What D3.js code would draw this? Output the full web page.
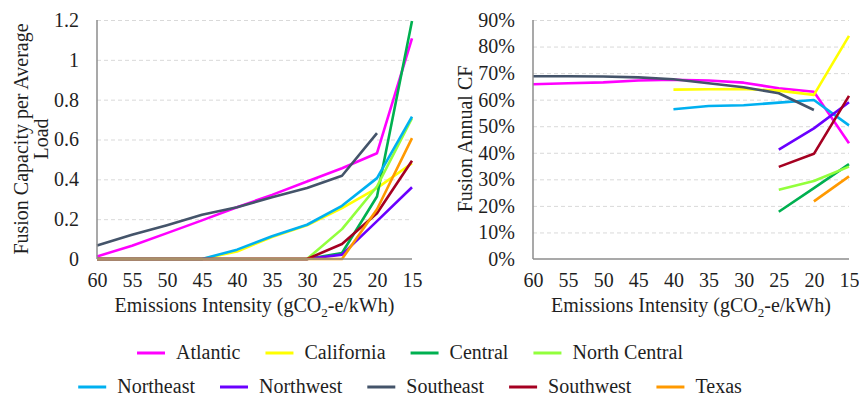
<!DOCTYPE html>
<html lang="en">
<head>
    <meta charset="UTF-8">
    <title>Fusion Capacity and Annual CF</title>
    <script src="https://d3js.org/d3.v7.min.js"></script>
    <style>
        body { margin: 0; background: #fff; }
        svg text { font-family: "Liberation Serif", "Times New Roman", serif; font-size: 20px; fill: #1f1f1f; }
    </style>
</head>
<body>
<svg id="chart" width="859" height="396"></svg>
<script>
    // emissions intensity (x axis), read left to right
    const intensity = [60, 55, 50, 45, 40, 35, 30, 25, 20, 15];

    const regions = ["Atlantic", "California", "Central", "North Central",
                     "Northeast", "Northwest", "Southeast", "Southwest", "Texas"];
    const colors = ["#ff00ff", "#ffff00", "#00b050", "#92ff3c",
                    "#00b0f0", "#6a00ff", "#44546a", "#a50021", "#ff9900"];

    // fusion capacity per average load
    const capAtlantic     = [0.013, 0.067, 0.13, 0.194, 0.26, 0.322, 0.389, 0.456, 0.531, 1.108];
    const capCalifornia   = [0, 0, 0, 0, 0.038, 0.11, 0.169, 0.256, 0.356, 0.481];
    const capCentral      = [0, 0, 0, 0, 0, 0, 0, 0.03, 0.314, 1.195];
    const capNorthCentral = [0, 0, 0, 0, 0, 0, 0, 0.15, 0.364, 0.707];
    const capNortheast    = [0, 0, 0, 0, 0.047, 0.114, 0.172, 0.267, 0.406, 0.715];
    const capNorthwest    = [0, 0, 0, 0, 0, 0, 0, 0.022, 0.19, 0.36];
    const capSoutheast    = [0.068, 0.122, 0.17, 0.222, 0.26, 0.31, 0.356, 0.418, 0.632, null];
    const capSouthwest    = [0, 0, 0, 0, 0, 0, 0, 0.075, 0.23, 0.493];
    const capTexas        = [0, 0, 0, 0, 0, 0, 0, 0, 0.25, 0.607];

    // fusion annual capacity factor
    const cfAtlantic     = [0.658, 0.662, 0.665, 0.672, 0.675, 0.672, 0.664, 0.643, 0.630, 0.436];
    const cfCalifornia   = [null, null, null, null, 0.638, 0.639, 0.640, 0.634, 0.618, 0.840];
    const cfCentral      = [null, null, null, null, null, null, null, 0.178, 0.267, 0.357];
    const cfNorthCentral = [null, null, null, null, null, null, null, 0.261, 0.294, 0.348];
    const cfNortheast    = [null, null, null, null, 0.564, 0.576, 0.579, 0.589, 0.599, 0.503];
    const cfNorthwest    = [null, null, null, null, null, null, null, 0.412, 0.492, 0.590];
    const cfSoutheast    = [0.688, 0.688, 0.687, 0.684, 0.677, 0.662, 0.647, 0.624, 0.561, null];
    const cfSouthwest    = [null, null, null, null, null, null, null, 0.347, 0.396, 0.614];
    const cfTexas        = [null, null, null, null, null, null, null, null, 0.217, 0.311];

    const capTicks = [0, 0.2, 0.4, 0.6, 0.8, 1, 1.2];
    const cfTicks = [0, 0.1, 0.2, 0.3, 0.4, 0.5, 0.6, 0.7, 0.8, 0.9];

    const FONT = "'Liberation Serif', 'Times New Roman', serif";
    const svg = d3.select("#chart");

    // d3 axes put font-family="sans-serif" on their group, so reset it
    function serifAxis(a) {
        a.attr("font-family", FONT).attr("font-size", 20);
        a.selectAll("text").attr("font-family", FONT).style("font-family", FONT);
        a.select(".domain").remove();
    }

    function drawChart(opts) {
        const g = svg.append("g");
        const x = d3.scalePoint().domain(intensity).range([opts.left, opts.right]);
        const y = d3.scaleLinear().domain([0, d3.max(opts.ticks)]).range([259, 20]);

        // dashed gridlines
        g.append("g")
            .attr("transform", `translate(${opts.left},0)`)
            .call(d3.axisLeft(y).tickValues(opts.ticks.filter(t => t > 0))
                .tickSize(-(opts.right - opts.left)).tickFormat(""))
            .call(a => a.select(".domain").remove())
            .selectAll("line")
            .attr("stroke", "#d9d9d9")
            .attr("stroke-width", 1)
            .attr("stroke-dasharray", "4,3");

        // y axis labels
        g.append("g")
            .attr("transform", `translate(${opts.left},0)`)
            .call(d3.axisLeft(y).tickValues(opts.ticks).tickSize(0).tickPadding(18)
                .tickFormat(opts.format))
            .call(serifAxis);

        // x axis labels
        g.append("g")
            .attr("transform", "translate(0,259)")
            .call(d3.axisBottom(x).tickSize(0).tickPadding(14))
            .call(serifAxis);

        // series lines
        const line = d3.line()
            .defined(d => d.v != null)
            .x(d => x(d.x))
            .y(d => y(d.v));
        opts.series.forEach((vals, i) => {
            g.append("path")
                .datum(intensity.map((xv, j) => ({ x: xv, v: vals[j] })))
                .attr("fill", "none")
                .attr("stroke", colors[i])
                .attr("stroke-width", 2.6)
                .attr("stroke-linejoin", "round")
                .attr("d", line);
        });

        // axis lines
        g.append("line")
            .attr("x1", opts.left).attr("x2", opts.left)
            .attr("y1", 20).attr("y2", 259)
            .attr("stroke", "#8c8c8c").attr("stroke-width", 1.5);
        g.append("line")
            .attr("x1", opts.left).attr("x2", opts.right)
            .attr("y1", 259).attr("y2", 259)
            .attr("stroke", "#8c8c8c").attr("stroke-width", 1.5);

        // x axis title with subscript
        const xt = g.append("text")
            .attr("x", (opts.left + opts.right) / 2)
            .attr("y", 312)
            .attr("text-anchor", "middle");
        xt.append("tspan").text("Emissions Intensity (gCO");
        xt.append("tspan").attr("dy", 5).style("font-size", "13px").text("2");
        xt.append("tspan").attr("dy", -5).text("-e/kWh)");

        // y axis title
        const yt = g.append("text")
            .attr("transform", `translate(${opts.titleX},139) rotate(-90)`)
            .attr("text-anchor", "middle");
        opts.yTitle.forEach((t, i) => {
            yt.append("tspan").attr("x", 0).attr("dy", i === 0 ? 0 : 20).text(t);
        });
    }

    drawChart({
        left: 97, right: 412, ticks: capTicks,
        format: d => String(+d.toFixed(1)),
        series: [capAtlantic, capCalifornia, capCentral, capNorthCentral, capNortheast,
                 capNorthwest, capSoutheast, capSouthwest, capTexas],
        yTitle: ["Fusion Capacity per Average", "Load"], titleX: 28
    });

    drawChart({
        left: 533, right: 849, ticks: cfTicks,
        format: d3.format(".0%"),
        series: [cfAtlantic, cfCalifornia, cfCentral, cfNorthCentral, cfNortheast,
                 cfNorthwest, cfSoutheast, cfSouthwest, cfTexas],
        yTitle: ["Fusion Annual CF"], titleX: 472
    });

    // legend: two centred rows
    const legendRows = [[0, 1, 2, 3], [4, 5, 6, 7, 8]];
    const legendY = [353, 387];
    const swatch = 28, swGap = 11, itemGap = 25, centerX = 410;
    legendRows.forEach((row, r) => {
        const lg = svg.append("g");
        let cx = 0;
        row.forEach(i => {
            const item = lg.append("g").attr("transform", `translate(${cx},0)`);
            item.append("line")
                .attr("x1", 0).attr("x2", swatch)
                .attr("y1", 0).attr("y2", 0)
                .attr("stroke", colors[i]).attr("stroke-width", 3);
            const t = item.append("text")
                .attr("x", swatch + swGap)
                .attr("dy", "0.32em")
                .text(regions[i]);
            cx += swatch + swGap + t.node().getComputedTextLength() + itemGap;
        });
        const total = cx - itemGap;
        lg.attr("transform", `translate(${centerX - total / 2},${legendY[r]})`);
    });
</script>
</body>
</html>
